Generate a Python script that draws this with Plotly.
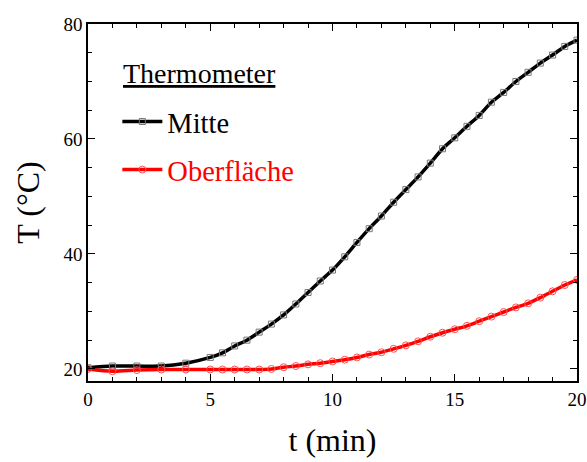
import plotly.graph_objects as go

t_mitte = [0, 1, 2, 3, 4, 5, 5.5, 6, 6.5, 7, 7.5, 8, 8.5, 9, 9.5, 10, 10.5, 11, 11.5, 12, 12.5,
           13, 13.5, 14, 14.5, 15, 15.5, 16, 16.5, 17, 17.5, 18, 18.5, 19, 19.5, 20]
T_mitte = [20.2, 20.5, 20.5, 20.5, 21.0, 22.0, 22.8, 24.0, 25.0, 26.4, 27.8, 29.4, 31.3, 33.3, 35.3,
           37.2, 39.5, 42.0, 44.4, 46.6, 49.0, 51.2, 53.4, 55.8, 58.3, 60.2, 62.2, 64.1, 66.4, 68.1,
           70.0, 71.6, 73.2, 74.6, 76.1, 77.2]

t_ober = [0, 1, 2, 3, 4, 5, 5.5, 6, 6.5, 7, 7.5, 8, 8.5, 9, 9.5, 10, 10.5, 11, 11.5, 12, 12.5,
          13, 13.5, 14, 14.5, 15, 15.5, 16, 16.5, 17, 17.5, 18, 18.5, 19, 19.5, 20]
T_ober = [20.0, 19.6, 19.8, 19.9, 19.9, 19.9, 19.9, 19.9, 19.9, 19.9, 20.0, 20.3, 20.5, 20.8, 21.0,
          21.3, 21.6, 22.0, 22.5, 22.9, 23.5, 24.1, 24.8, 25.6, 26.3, 26.9, 27.5, 28.3, 29.1, 29.9,
          30.7, 31.4, 32.4, 33.5, 34.6, 35.5]

legend_title = "Thermometer"

FONT = "Liberation Serif, Times New Roman, serif"

fig = go.Figure()
fig.add_trace(go.Scatter(
    x=t_mitte, y=T_mitte, mode="lines+markers",
    name="<span style='font-family:Liberation Serif;color:#000000'>Mitte</span>",
    legendgroup="a",
    line=dict(color="black", width=3.5, shape="spline", smoothing=0.8),
    marker=dict(symbol="square-open", size=6, color="#777777", line=dict(width=1)),
))
fig.add_trace(go.Scatter(
    x=t_ober, y=T_ober, mode="lines+markers",
    name="<span style='font-family:Liberation Serif;color:#ff0000'>Oberfläche</span>",
    legendgroup="b",
    line=dict(color="#ff0000", width=3.5, shape="spline", smoothing=0.8),
    marker=dict(symbol="circle-open", size=7, color="#ff5050", line=dict(width=1)),
))

axis_common = dict(
    showline=True, linecolor="black", linewidth=1.5, mirror="ticks",
    ticks="inside", ticklen=7, tickwidth=1.2, tickcolor="black",
    showgrid=False, zeroline=False, automargin=False,
    tickfont=dict(family=FONT, size=19, color="black"),
)

fig.update_layout(
    width=587, height=462,
    margin=dict(l=88, r=10, t=24, b=81),
    paper_bgcolor="white", plot_bgcolor="white",
    font=dict(family=FONT, color="black"),
    xaxis=dict(range=[0, 20], dtick=5, tick0=0,
               minor=dict(dtick=1, ticks="inside", ticklen=4, tickcolor="black"),
               title=dict(text="t (min)", font=dict(family=FONT, size=32), standoff=20),
               **axis_common),
    yaxis=dict(range=[17.9, 80], dtick=20, tick0=20,
               minor=dict(dtick=5, ticks="inside", ticklen=4, tickcolor="black"),
               title=dict(text="T (°C)", font=dict(family=FONT, size=32), standoff=14),
               **axis_common),
    legend=dict(
        x=0.060, y=0.797, xanchor="left", yanchor="top",
        bgcolor="rgba(0,0,0,0)",
        font=dict(family=FONT, size=28.5, color="black"),
        tracegroupgap=8, itemwidth=40,
        traceorder="grouped",
    ),
    annotations=[dict(
        text="<u>" + legend_title + "</u>", xref="paper", yref="paper",
        x=0.228, y=0.860, xanchor="center", yanchor="middle", showarrow=False,
        font=dict(family=FONT, size=28, color="black"),
    )],
)

fig.write_html("out.html", post_script="document.body.style.margin='0';",
               config={"displayModeBar": False})
